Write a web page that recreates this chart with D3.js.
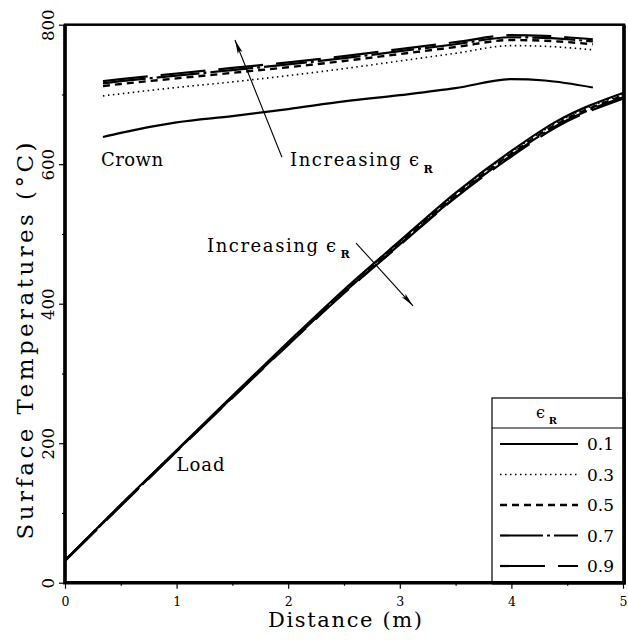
<!DOCTYPE html>
<html>
<head>
<meta charset="utf-8">
<script src="https://cdn.jsdelivr.net/npm/d3@7"></script>
<style>
  body { margin: 0; background: #fff; }
  text { font-family: "DejaVu Serif", "Liberation Serif", serif; fill: #000; }
</style>
</head>
<body>
<script>

// data (distance in m, temperature in deg C)
var emissivities = ['0.1', '0.3', '0.5', '0.7', '0.9'];

var distLoad = [0, 0.5, 1, 1.5, 2, 2.5, 3, 3.5, 4, 4.4, 5];
var load01 = [32, 112, 190, 268, 345, 420, 490, 559, 619, 661, 702];
var load03 = [32, 112, 190, 267, 344, 419, 488, 557, 617, 659, 700];
var load05 = [32, 111, 189, 266, 343, 417, 487, 555, 615, 657, 698];
var load07 = [32, 111, 189, 266, 342, 416, 485, 553, 613, 655, 696];
var load09 = [31, 110, 188, 265, 341, 415, 484, 552, 611, 653, 694];

var distCrown = [0.34, 0.5, 1, 1.5, 2, 2.5, 3, 3.5, 4, 4.3, 4.73];
var crown01 = [639, 645, 660, 669, 679, 690, 699, 709, 722, 720, 710];
var crown03 = [698, 701, 710, 718, 727, 737, 748, 759, 770, 769, 764];
var crown05 = [712, 715, 723, 731, 739, 748, 758, 768, 778, 777, 772];
var crown07 = [716, 719, 727, 735, 743, 752, 762, 772, 782, 781, 776];
var crown09 = [719, 722, 730, 738, 746, 755, 765, 775, 785, 784, 779];

var xTicks = [0, 1, 2, 3, 4, 5];
var xMinorTicks = [0.5, 1.5, 2.5, 3.5, 4.5];
var yTicks = [0, 200, 400, 600, 800];
var yMinorTicks = [100, 300, 500, 700];

var loadSeries = [load01, load03, load05, load07, load09];
var crownSeries = [crown01, crown03, crown05, crown07, crown09];

// line styles per emissivity
var styles = [
  { dash: null, width: 2.2 },
  { dash: '1.5,3.5', width: 1.6 },
  { dash: '7,5', width: 2.4 },
  { dash: '43,4,3,4', width: 2.2 },
  { dash: '45,13', width: 2.2 }
];

var width = 628, height = 641;
var svg = d3.select('body').append('svg')
  .attr('width', width)
  .attr('height', height);

var x = d3.scaleLinear().domain([0, 5]).range([65, 623]);
var y = d3.scaleLinear().domain([0, 800]).range([582.7, 24.7]);

// arrow head def
svg.append('svg:defs')
  .append('svg:marker')
  .attr('id', 'arrowhead')
  .attr('viewBox', '0 0 14 6')
  .attr('refX', 14)
  .attr('refY', 3)
  .attr('markerWidth', 14)
  .attr('markerHeight', 6)
  .attr('markerUnits', 'userSpaceOnUse')
  .attr('orient', 'auto')
  .append('path')
  .attr('d', 'M 0 0.5 L 14 3 L 0 5.5 L 3 3 Z')
  .style('fill', '#000');

// axes
var xAxis = svg.append('g')
  .attr('class', 'xAxis')
  .attr('transform', `translate(0,${y(0)})`)
  .call(d3.axisBottom(x).tickValues(xTicks).tickSize(6).tickFormat(d3.format('d')));
xAxis.select('.domain').remove();
xAxis.selectAll('text')
  .attr('y', 14)
  .attr('dy', '0.71em')
  .style('font-size', '12.5px');

svg.append('g')
  .attr('transform', `translate(0,${y(0)})`)
  .call(d3.axisBottom(x).tickValues(xMinorTicks).tickSize(3).tickFormat(''))
  .select('.domain').remove();

var yAxis = svg.append('g')
  .attr('class', 'yAxis')
  .attr('transform', `translate(${x(0)},0)`)
  .call(d3.axisLeft(y).tickValues(yTicks).tickSize(6).tickFormat(d3.format('d')));
yAxis.select('.domain').remove();
yAxis.selectAll('text')
  .attr('transform', 'rotate(-90)')
  .attr('x', 0)
  .attr('y', -11)
  .attr('dy', 0)
  .style('text-anchor', 'middle')
  .style('font-size', '16.5px');

svg.append('g')
  .attr('transform', `translate(${x(0)},0)`)
  .call(d3.axisLeft(y).tickValues(yMinorTicks).tickSize(3).tickFormat(''))
  .select('.domain').remove();

svg.selectAll('.tick line').attr('stroke', '#000').attr('stroke-width', 1.2);

// frame
svg.append('rect')
  .attr('x', x(0)).attr('y', y(800))
  .attr('width', x(5) + 1 - x(0)).attr('height', y(0) - y(800))
  .attr('fill', 'none').attr('stroke', '#000').attr('stroke-width', 2.5);
svg.append('path')
  .attr('d', `M ${x(0)} ${y(800)} V ${y(0)} H ${x(5) + 1} V ${y(800)}`)
  .attr('fill', 'none').attr('stroke', '#000').attr('stroke-width', 3.6);

// axis titles
svg.append('text')
  .attr('x', 345).attr('y', 627)
  .attr('text-anchor', 'middle')
  .attr('textLength', 154).attr('lengthAdjust', 'spacing')
  .style('font-size', '21px')
  .text('Distance (m)');

svg.append('text')
  .attr('transform', 'translate(33,341) rotate(-90)')
  .attr('text-anchor', 'middle')
  .attr('textLength', 397).attr('lengthAdjust', 'spacing')
  .style('font-size', '23px')
  .text('Surface Temperatures (\u00B0C)');

// data lines
var line = function (xs) {
  return d3.line()
    .x((d, i) => x(xs[i]))
    .y(d => y(d))
    .curve(d3.curveMonotoneX);
};

var drawGroup = function (cls, xs, series) {
  svg.append('g').attr('class', cls)
    .selectAll('path')
    .data(series)
    .enter().append('path')
    .attr('d', line(xs))
    .attr('fill', 'none')
    .attr('stroke', '#000')
    .attr('stroke-width', (d, i) => styles[i].width)
    .attr('stroke-dasharray', (d, i) => styles[i].dash);
};

drawGroup('load', distLoad, loadSeries);
drawGroup('crown', distCrown, crownSeries);

// annotations
var label = function (xv, yv, str, len, size) {
  return svg.append('text')
    .attr('x', x(xv)).attr('y', y(yv))
    .attr('textLength', len).attr('lengthAdjust', 'spacing')
    .style('font-size', size + 'px')
    .text(str);
};

var epsR = function (px, py, size, sub) {
  svg.append('text')
    .attr('x', px).attr('y', py)
    .style('font-size', size + 'px')
    .text('\u03F5');
  svg.append('text')
    .attr('x', px + size * 0.8).attr('y', py + sub)
    .style('font-size', (size * 0.62) + 'px')
    .style('font-weight', 'bold')
    .text('R');
};

label(0.323, 598, 'Crown', 62, 18);
label(1.0, 160, 'Load', 48, 18);
label(2.016, 598, 'Increasing', 111, 18);
epsR(409, y(598), 18, 7);
label(1.272, 474, 'Increasing', 111, 18);
epsR(326, y(474), 18, 6);

// arrows
var arrows = [
  { from: [1.944, 610], to: [1.523, 778] },
  { from: [2.608, 487], to: [3.118, 397] }
];
svg.append('g').selectAll('line')
  .data(arrows)
  .enter().append('line')
  .attr('x1', d => x(d.from[0])).attr('y1', d => y(d.from[1]))
  .attr('x2', d => x(d.to[0])).attr('y2', d => y(d.to[1]))
  .attr('stroke', '#000')
  .attr('stroke-width', 1.1)
  .attr('marker-end', 'url(#arrowhead)');

// legend
var lg = { x0: 492, x1: x(5) + 1, y0: 398, head: 428, y1: y(0) };
var legend = svg.append('g').attr('class', 'legend');
legend.append('rect')
  .attr('x', lg.x0).attr('y', lg.y0)
  .attr('width', lg.x1 - lg.x0).attr('height', lg.y1 - lg.y0)
  .attr('fill', '#fff').attr('stroke', '#000').attr('stroke-width', 1.2);
legend.append('line')
  .attr('x1', lg.x0).attr('x2', lg.x1)
  .attr('y1', lg.head).attr('y2', lg.head)
  .attr('stroke', '#000').attr('stroke-width', 1.2);
epsR(536, 418, 16, 6);

var rows = legend.selectAll('g.row')
  .data(emissivities)
  .enter().append('g')
  .attr('class', 'row')
  .attr('transform', (d, i) => `translate(0,${444 + i * 30.5})`);
rows.append('line')
  .attr('x1', 500).attr('x2', 578)
  .attr('stroke', '#000')
  .attr('stroke-width', (d, i) => styles[i].width)
  .attr('stroke-dasharray', (d, i) => styles[i].dash);
rows.append('text')
  .attr('x', 587).attr('y', 6)
  .style('font-size', '17px')
  .text(d => d);

// redraw frame edges over legend
svg.append('path')
  .attr('d', `M ${lg.x0} ${y(0)} H ${x(5) + 1} V ${lg.y0}`)
  .attr('fill', 'none').attr('stroke', '#000').attr('stroke-width', 3.6);

</script>
</body>
</html>
